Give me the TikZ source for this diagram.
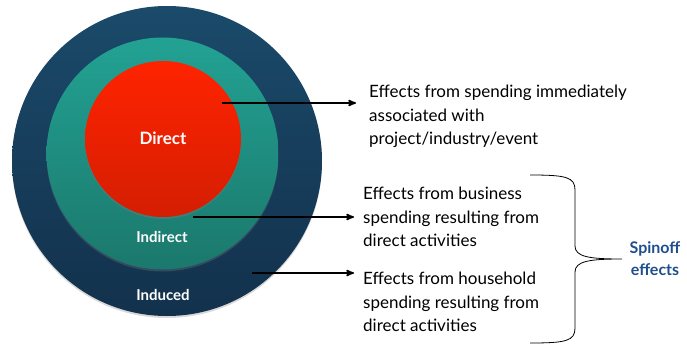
\documentclass[tikz,border=0pt]{standalone}
\usepackage{fontspec}
\setmainfont{Lato}
\usetikzlibrary{arrows,shadows}

\definecolor{induceTop}{HTML}{1B4A6A}
\definecolor{induceBot}{HTML}{12314C}
\definecolor{indirTop}{HTML}{22A293}
\definecolor{indirBot}{HTML}{1B786C}
\definecolor{directTop}{HTML}{FF2300}
\definecolor{directBot}{HTML}{D41E02}
\definecolor{spinBlue}{HTML}{1F4E8D}

\begin{document}
\begin{tikzpicture}[x=1pt,y=-1pt,>=stealth',
    ring/.style={circle,draw=none,
      drop shadow={opacity=0.3,shadow xshift=0pt,shadow yshift=-2pt}},
    ring label/.style={text=white,font=\bfseries\fontsize{15}{18}\selectfont},
    effect/.style={anchor=north west,align=left,inner sep=0pt,
      font=\fontsize{17}{23.5}\selectfont}]

    \useasboundingbox (0,0) rectangle (687,345);

    %% the three nested rings
    \node[ring,minimum size=310pt,top color=induceTop,bottom color=induceBot] (IND) at (167,161) {};
    \node[ring,minimum size=232pt,top color=indirTop,bottom color=indirBot] (IDR) at (162.5,153.5) {};
    \node[ring,minimum size=156pt,top color=directTop,bottom color=directBot] (DIR) at (163,139) {};

    \node[ring label,font=\bfseries\fontsize{17}{18}\selectfont] (DIRlbl) at (163,138) {Direct};
    \node[ring label] (IDRlbl) at (162,237) {Indirect};
    \node[ring label] (INDlbl) at (163,295) {Induced};

    %% descriptions
    \node[effect] (effDIR) at (369,85) {Effects from spending immediately\\associated with\\project/industry/event};
    \node[effect] (effIDR) at (363,187) {Effects from business\\spending resulting from\\direct activities};
    \node[effect] (effIND) at (363,272) {Effects from household\\spending resulting from\\direct activities};

    \coordinate (aDIR) at (222,103);
    \coordinate (aIDR) at (193,217);
    \coordinate (aIND) at (252,273);

    \draw[->,line width=1.6pt,shorten >=13pt] (aDIR) -- (aDIR -| effDIR.west);
    \draw[->,line width=1.6pt,shorten >=9pt] (aIDR) -- (aIDR -| effIDR.west);
    \draw[->,line width=1.6pt,shorten >=9pt] (aIND) -- (aIND -| effIND.west);

    %% brace over the spinoff part
    \draw[line width=0.8pt] (530,175) .. controls (566,175) and (575,177) .. (575,190)
      -- (575,246) .. controls (575,257) and (590,259) .. (622,259)
      .. controls (590,259) and (575,261) .. (575,272)
      -- (575,328) .. controls (575,341) and (566,343) .. (530,343);

    \node[text=spinBlue,align=center,font=\bfseries\fontsize{16}{22}\selectfont] (spin) at (655,259) {Spinoff\\effects};
  \end{tikzpicture}
\end{document}
